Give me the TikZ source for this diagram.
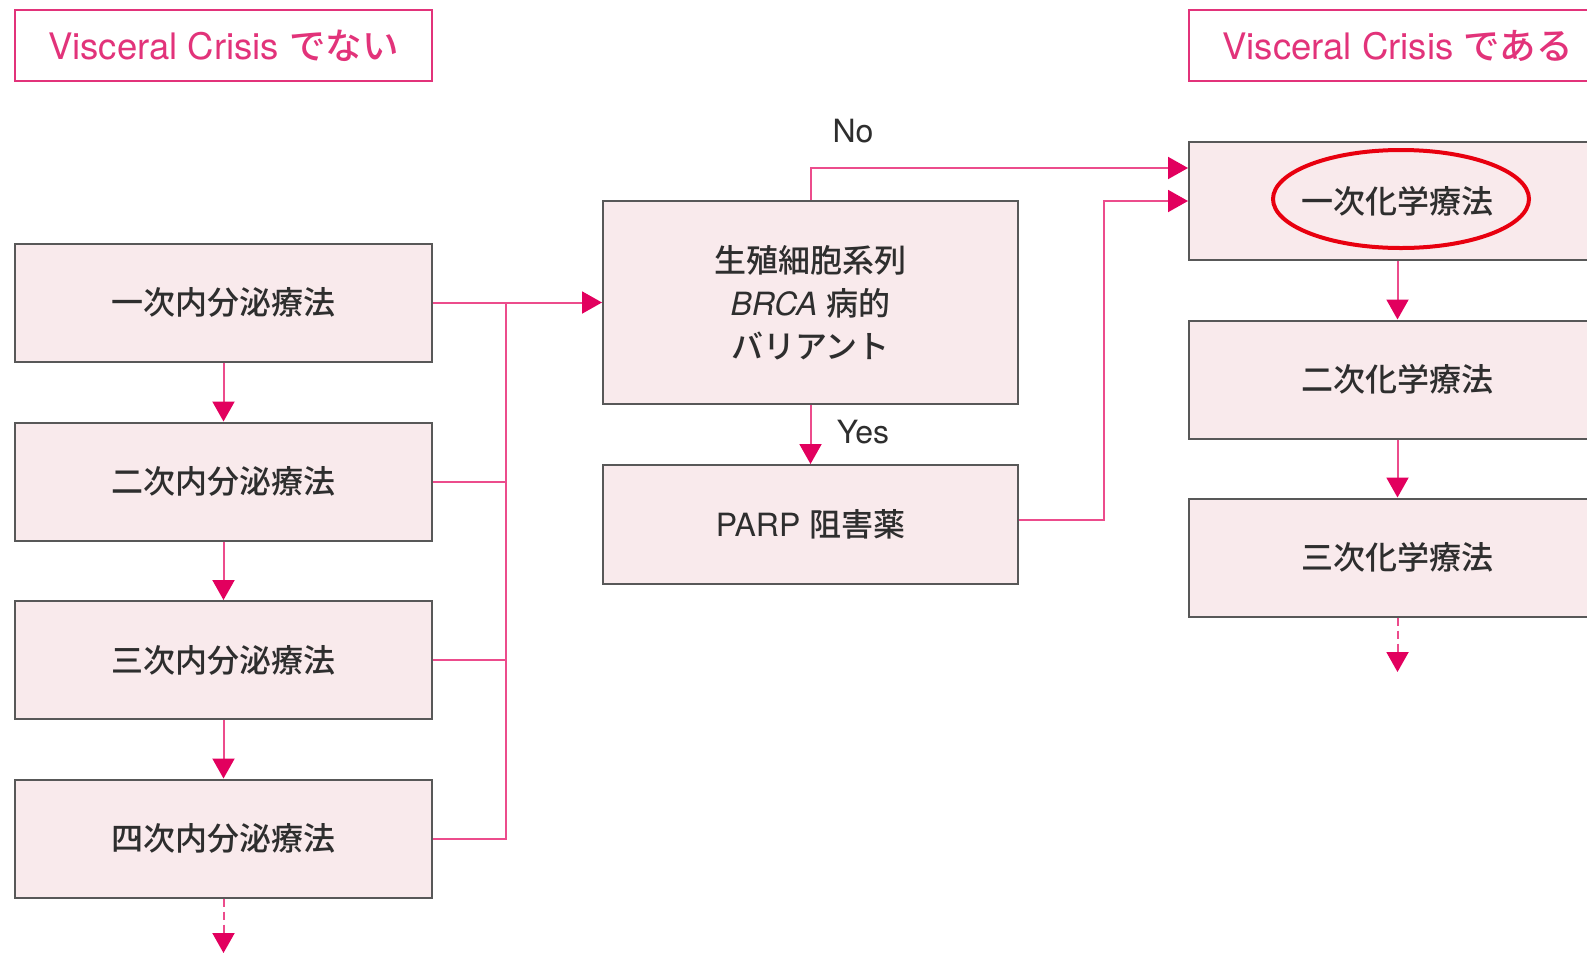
\documentclass[tikz,border=0pt]{standalone}
\usepackage{fontspec}
\setmainfont{TeX Gyre Heros}
\newfontfamily\jp{Noto Sans CJK JP Medium}
\usetikzlibrary{arrows.meta}
\definecolor{pinkline}{HTML}{EC4C8C}
\definecolor{pinkhead}{HTML}{E2005E}
\definecolor{boxfill}{HTML}{F9EAEC}
\definecolor{boxdraw}{HTML}{585858}
\definecolor{hdrtext}{HTML}{E2337A}
\definecolor{txt}{HTML}{2E2E2E}
\definecolor{circ}{HTML}{E8000F}
\begin{document}
\begin{tikzpicture}[x=1pt,y=-1pt,
  stepbox/.style={draw=boxdraw, line width=2pt, fill=boxfill, minimum width=417pt, minimum height=118pt, inner sep=0pt, text=txt, font=\fontsize{32}{43}\selectfont, align=center},
  hdr/.style={draw=hdrtext, line width=1.8pt, minimum width=417pt, minimum height=71pt, inner sep=0pt, text=hdrtext, font=\fontsize{36.5}{40}\selectfont},
  conn/.style={draw=pinkline, line width=2pt},
  arr/.style={conn, -{Triangle[length=20pt,width=22pt,color=pinkhead]}},
  dsh/.style={dash pattern=on 8pt off 5pt},
  lbl/.style={text=txt, font=\fontsize{32}{36}\selectfont}]
\useasboundingbox (0,0) rectangle (1587,954);
\clip (0,0) rectangle (1587,954);
\fill[white] (0,0) rectangle (1587,954);

\node[hdr] (h1) at (223.5,45.5) {Visceral Crisis {\jp でない}};
\node[hdr] (h2) at (1397.5,45.5) {Visceral Crisis {\jp である}};

\node[stepbox] (l1) at (223.5,302.5) {\jp 一次内分泌療法};
\node[stepbox] (l2) at (223.5,481.5) {\jp 二次内分泌療法};
\node[stepbox] (l3) at (223.5,660) {\jp 三次内分泌療法};
\node[stepbox] (l4) at (223.5,838.5) {\jp 四次内分泌療法};

\node[stepbox, minimum width=415pt, minimum height=203pt] (m1) at (810.5,302.5) {{\jp 生殖細胞系列}\\\textit{BRCA} {\jp 病的}\\{\jp バリアント}};
\node[stepbox, minimum width=415pt, minimum height=119pt] (m2) at (810.5,524.5) {PARP {\jp 阻害薬}};

\node[stepbox] (r1) at (1397.5,201) {\jp 一次化学療法};
\node[stepbox] (r2) at (1397.5,379.5) {\jp 二次化学療法};
\node[stepbox] (r3) at (1397.5,557.5) {\jp 三次化学療法};

\node[lbl] (no) at (853,131) {No};
\node[lbl] (yes) at (863,432) {Yes};

\coordinate (bus) at (506,302.5);
\coordinate (lend) at (223.5,953);
\coordinate (rend) at (1397.5,672);

\draw[arr] (l1.south) -- (l2.north);
\draw[arr] (l2.south) -- (l3.north);
\draw[arr] (l3.south) -- (l4.north);
\draw[arr,dsh] (l4.south) -- (lend);

\draw[arr] (l1.east) -- (m1.west);
\draw[conn] (l2.east) -| (bus);
\draw[conn] (l3.east) -| (bus);
\draw[conn] (l4.east) -| (bus);

\draw[arr] (m1.south) -- (m2.north);
\draw[arr] (m1.north) |- ([yshift=33pt]r1.west);
\draw[arr] ([yshift=5pt]m2.east) -- ++(85,0) |- (r1.west);

\draw[arr] (r1.south) -- (r2.north);
\draw[arr] (r2.south) -- (r3.north);
\draw[arr,dsh] (r3.south) -- (rend);

\draw[circ, line width=4pt] (1401,199) ellipse [x radius=128pt, y radius=49pt];
\end{tikzpicture}
\end{document}
